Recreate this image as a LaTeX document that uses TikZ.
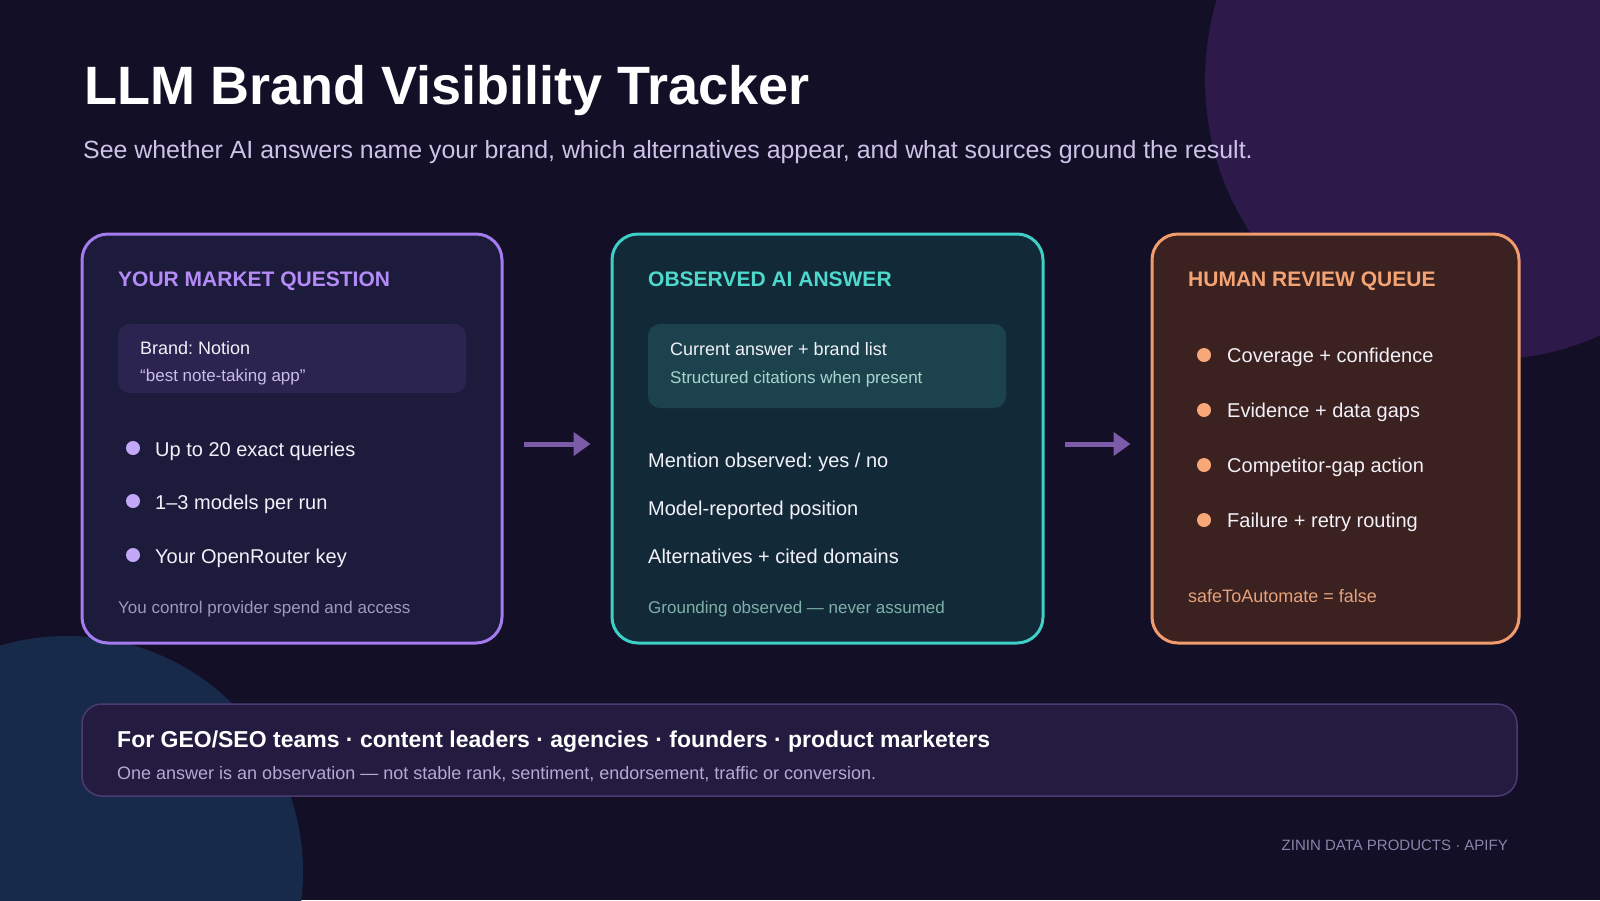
\documentclass[tikz,border=0pt]{standalone}
\usepackage{fontspec}
\setmainfont{Liberation Sans}
\usetikzlibrary{arrows.meta,positioning,backgrounds}
\frenchspacing

\definecolor{bgdark}{HTML}{130F26}
\definecolor{blobpurple}{HTML}{2D1A4B}
\definecolor{blobblue}{HTML}{182A4A}
\definecolor{askfill}{HTML}{1D1B3B}
\definecolor{askline}{HTML}{A47CF0}
\definecolor{asktitle}{HTML}{B48CF8}
\definecolor{askinner}{HTML}{2B2350}
\definecolor{askdot}{HTML}{C4A8F8}
\definecolor{asksub}{HTML}{C9BDE6}
\definecolor{asknote}{HTML}{A098BB}
\definecolor{ansfill}{HTML}{122A38}
\definecolor{ansline}{HTML}{3ECFC6}
\definecolor{anstitle}{HTML}{4FD8CC}
\definecolor{ansinner}{HTML}{1C434D}
\definecolor{anssub}{HTML}{A9D5CF}
\definecolor{ansnote}{HTML}{7FB0AA}
\definecolor{revfill}{HTML}{3B211F}
\definecolor{revline}{HTML}{F09C6C}
\definecolor{revtitle}{HTML}{F4A474}
\definecolor{revdot}{HTML}{F8A878}
\definecolor{revnote}{HTML}{E6A27C}
\definecolor{bandfill}{HTML}{231B40}
\definecolor{bandline}{HTML}{4B3B72}
\definecolor{bandsub}{HTML}{B4AAD2}
\definecolor{flowcol}{HTML}{7C5CA8}
\definecolor{maintext}{HTML}{F2F0F8}
\definecolor{subtitle}{HTML}{CDC3E8}
\definecolor{credit}{HTML}{8C84AA}

\tikzset{
  >=Latex,
  panel/.style={draw, rounded corners=26pt, line width=3pt, minimum height=409pt},
  inner/.style={rounded corners=12pt},
  txt/.style={anchor=base west, inner sep=0pt, text=maintext},
  headline/.style={txt, font=\fontsize{54}{60}\selectfont\bfseries, text=white},
  paneltitle/.style={txt, font=\fontsize{21}{24}\selectfont\bfseries},
  boxline/.style={txt, font=\fontsize{18}{22}\selectfont},
  boxsub/.style={txt, font=\fontsize{17}{20}\selectfont},
  item/.style={txt, font=\fontsize{20}{24}\selectfont},
  note/.style={txt, font=\fontsize{17}{20}\selectfont},
  dot/.style={circle, inner sep=0pt, minimum size=14pt},
  flow/.style={-{Triangle[length=17pt,width=23pt]}, line width=5pt, draw=flowcol,
    shorten <=20pt, shorten >=20pt}
}

\begin{document}
\begin{tikzpicture}[x=1pt,y=-1pt]
\useasboundingbox (0,0) rectangle (1600,900);

% Backdrop
\begin{scope}
  \clip (0,0) rectangle (1600,900);
  \fill[bgdark] (0,0) rectangle (1600,900);
  \fill[blobpurple] (1485,80) circle (280);
  \fill[blobblue] (67,872) circle (236);
\end{scope}

% Heading
\node[headline] (title) at (84,104) {LLM Brand Visibility Tracker};
\node[txt, font=\fontsize{24.9}{30}\selectfont, text=subtitle] (lede) at (83,158)
  {See whether AI answers name your brand, which alternatives appear, and what sources ground the result.};

% Market question
\node[panel, fill=askfill, draw=askline, minimum width=420pt] (ask) at (292,438.5) {};
\node[paneltitle, text=asktitle] (askhead) at (118,286) {YOUR MARKET QUESTION};
\node[inner, fill=askinner, minimum width=348pt, minimum height=69pt] (askbox) at (292,358.5) {};
\node[boxline] (brand) at (140,354) {Brand: Notion};
\node[boxsub, text=asksub] (query) at (140,381) {“best note-taking app”};
\foreach \y/\t [count=\i] in {448/Up to 20 exact queries, 501/1--3 models per run, 555/Your OpenRouter key}{
  \node[dot, fill=askdot] (askdot\i) at (133,\y) {};
  \node[item] (askitem\i) at (155,\y+8) {\t};
}
\node[note, text=asknote] (asknote) at (118,613) {You control provider spend and access};

% Observed answer
\node[panel, fill=ansfill, draw=ansline, minimum width=431pt] (answer) at (827.5,438.5) {};
\node[paneltitle, text=anstitle] (anshead) at (648,286) {OBSERVED AI ANSWER};
\node[inner, fill=ansinner, minimum width=358pt, minimum height=84pt] (ansbox) at (827,366) {};
\node[boxline] (current) at (670,355) {Current answer + brand list};
\node[boxsub, text=anssub] (cites) at (670,383) {Structured citations when present};
\foreach \y/\t [count=\i] in {467/{Mention observed: yes / no}, 515/Model-reported position, 563/Alternatives + cited domains}{
  \node[item] (ansitem\i) at (648,\y) {\t};
}
\node[note, text=ansnote] (ansnote) at (648,613) {Grounding observed — never assumed};

% Review queue
\node[panel, fill=revfill, draw=revline, minimum width=367pt] (review) at (1335.5,438.5) {};
\node[paneltitle, text=revtitle] (revhead) at (1188,286) {HUMAN REVIEW QUEUE};
\foreach \y/\t [count=\i] in {355/Coverage + confidence, 410/Evidence + data gaps, 465/Competitor-gap action, 520/Failure + retry routing}{
  \node[dot, fill=revdot] (revdot\i) at (1204,\y) {};
  \node[item] (revitem\i) at (1227,\y+7) {\t};
}
\node[note, text=revnote, font=\fontsize{18}{21}\selectfont] (revnote) at (1188,602) {safeToAutomate = false};

% Flow between stages
\draw[flow] ([yshift=-5.5pt]ask.east) -- ([yshift=-5.5pt]answer.west);
\draw[flow] ([yshift=-5.5pt]answer.east) -- ([yshift=-5.5pt]review.west);

% Audience band
\node[draw=bandline, fill=bandfill, line width=1.5pt, rounded corners=20pt,
  minimum width=1435pt, minimum height=92pt] (band) at (799.5,750) {};
\node[txt, text=white, font=\fontsize{23}{28}\selectfont\bfseries] (who) at (117,747)
  {For GEO/SEO teams · content leaders · agencies · founders · product marketers};
\node[txt, text=bandsub, font=\fontsize{18}{21}\selectfont] (caveat) at (117,779)
  {One answer is an observation — not stable rank, sentiment, endorsement, traffic or conversion.};

\node[inner sep=0pt, anchor=base east, text=credit, font=\fontsize{15}{18}\selectfont] (credit) at (1508,850)
  {ZININ DATA PRODUCTS · APIFY};

\end{tikzpicture}
\end{document}
